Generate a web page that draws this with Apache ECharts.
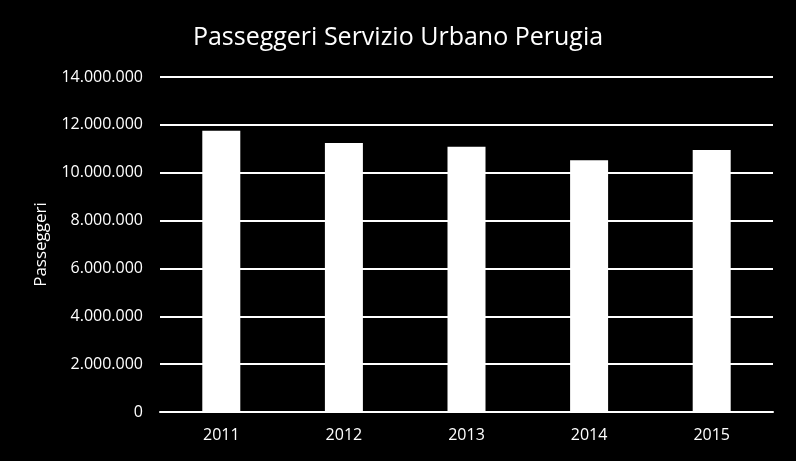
<!DOCTYPE html>
<html><head><meta charset="utf-8">
<script src="https://cdn.jsdelivr.net/npm/echarts@6/dist/echarts.min.js"></script>
<style>html,body{margin:0;padding:0;background:#000}#c{width:796px;height:461px}</style>
</head><body><div id="c"></div>
<script>
const categories = ['2011','2012','2013','2014','2015'];
const passengers = [11750000, 11245000, 11080000, 10520000, 10950000];
const yTicks = {min: 0, max: 14000000, interval: 2000000};
const titleText = 'Passeggeri Servizio Urbano Perugia';
const yName = 'Passeggeri';

function fmt(v){ return String(v).replace(/\B(?=(\d{3})+(?!\d))/g, '.'); }

const chart = echarts.init(document.getElementById('c'));
chart.setOption({
  backgroundColor: '#000',
  animation: false,
  title: {
    text: titleText, left: 'center', top: 20,
    textStyle: {color: '#fff', fontFamily: 'Open Sans', fontWeight: 'normal', fontSize: 25}
  },
  grid: {left: 160, right: 23, top: 77, bottom: 49, containLabel: false},
  xAxis: {
    type: 'category', data: categories,
    axisLine: {show: true, lineStyle: {color: '#fff', width: 2}},
    axisTick: {show: false},
    axisLabel: {color: '#fff', fontFamily: 'Open Sans', fontSize: 16, margin: 15}
  },
  yAxis: {
    type: 'value', min: yTicks.min, max: yTicks.max, interval: yTicks.interval,
    name: yName, nameLocation: 'middle', nameGap: 110, nameRotate: 90,
    nameTextStyle: {color: '#fff', fontFamily: 'Open Sans', fontSize: 17},
    axisLine: {show: false}, axisTick: {show: false},
    splitLine: {lineStyle: {color: '#fff', width: 2}},
    axisLabel: {color: '#fff', fontFamily: 'Open Sans', fontSize: 16, margin: 17, formatter: fmt}
  },
  series: [{
    type: 'bar', data: passengers, barWidth: 38,
    itemStyle: {color: '#fff'}
  }]
});
</script></body></html>
